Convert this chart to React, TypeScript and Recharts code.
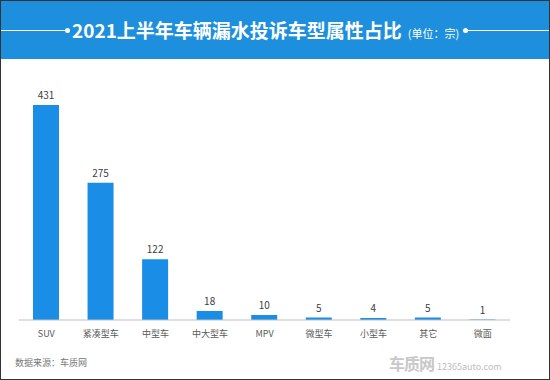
import { BarChart, Bar, XAxis, YAxis, LabelList } from "recharts";

const categories = ["SUV", "紧凑型车", "中型车", "中大型车", "MPV", "微型车", "小型车", "其它", "微面"];
const complaints = [431, 275, 122, 18, 10, 5, 4, 5, 1];

const chartData = categories.map((name, i) => ({ name, value: complaints[i] }));

const FONT = "'Noto Sans CJK SC', 'Noto Sans', sans-serif";

export default function App() {
  return (
    <div
      style={{
        position: "relative",
        width: 550,
        height: 380,
        boxSizing: "border-box",
        border: "1px solid #333",
        background: "#fff",
        fontFamily: FONT,
        overflow: "hidden",
      }}
    >
      <style>{"body{margin:0}"}</style>
      <div
        style={{
          position: "absolute",
          left: 0,
          top: 0,
          width: 550,
          height: 58,
          background: "#1d8fdd",
        }}
      >
        <div style={{ position: "absolute", left: 0, top: 29, width: 64, height: 1, background: "#fff" }} />
        <div style={{ position: "absolute", left: 64, top: 27, width: 5, height: 5, borderRadius: 3, background: "#fff" }} />
        <div
          style={{
            position: "absolute",
            left: 71,
            top: 14,
            color: "#fff",
            fontSize: 19,
            fontWeight: 700,
            lineHeight: "30px",
            whiteSpace: "nowrap",
          }}
        >
          2021上半年车辆漏水投诉车型属性占比
          <span style={{ fontSize: 11, fontWeight: 400, marginLeft: 6 }}>(单位：宗)</span>
        </div>
        <div style={{ position: "absolute", left: 462, top: 27, width: 5, height: 5, borderRadius: 3, background: "#fff" }} />
        <div style={{ position: "absolute", left: 467, top: 29, width: 83, height: 1, background: "#fff" }} />
      </div>

      <div style={{ position: "absolute", left: -1, top: -1 }}>
        <BarChart
          width={550}
          height={380}
          data={chartData}
          margin={{ top: 105, right: 40, bottom: 30, left: 19 }}
          barSize={26}
        >
          <YAxis hide domain={[0, 431]} />
          <XAxis
            dataKey="name"
            height={30}
            tickLine={false}
            axisLine={{ stroke: "#bfbfbf" }}
            tickMargin={5}
            interval={0}
            tick={{ fontSize: 9, fill: "#595959", fontFamily: FONT }}
          />
          <Bar dataKey="value" fill="#1a8de6" isAnimationActive={false}>
            <LabelList
              dataKey="value"
              position="top"
              offset={6}
              style={{ fontSize: 10, fill: "#404040", fontFamily: FONT }}
            />
          </Bar>
        </BarChart>
      </div>

      <div
        style={{
          position: "absolute",
          left: 14,
          top: 355,
          fontSize: 9,
          color: "#777",
          whiteSpace: "nowrap",
        }}
      >
        数据来源：车质网
      </div>
      <div
        style={{
          position: "absolute",
          left: 388,
          top: 350,
          whiteSpace: "nowrap",
          color: "#c8c8c8",
        }}
      >
        <span style={{ fontSize: 16, fontWeight: 700, letterSpacing: -1 }}>车质网</span>
        <span style={{ fontSize: 9, marginLeft: 3, color: "#bdbdbd" }}>12365auto.com</span>
      </div>
    </div>
  );
}
